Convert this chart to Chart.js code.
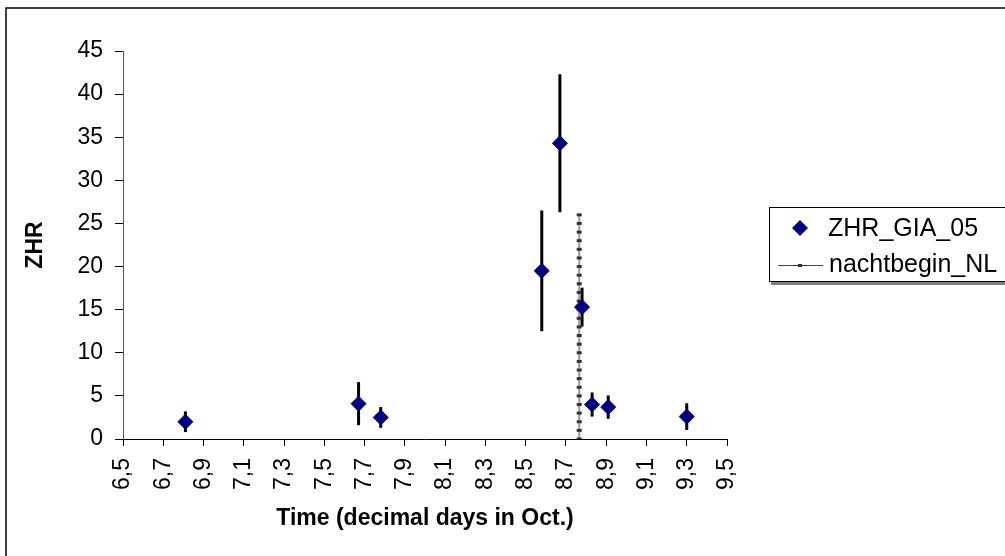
<!DOCTYPE html>
<html>
<head>
<meta charset="utf-8">
<script src="https://cdn.jsdelivr.net/npm/chart.js@4.4.1/dist/chart.umd.min.js"></script>
<style>
  body { margin: 0; background: #fff; }
  #wrap { width: 1005px; height: 556px; }
</style>
</head>
<body>
<div id="wrap"><canvas id="chartCanvas" width="1005" height="556"></canvas></div>
<script>
// ZHR points (time in decimal days of October), with +/- error
const zhrTime = [6.81, 7.67, 7.78, 8.58, 8.67, 8.78, 8.83, 8.91, 9.30];
const zhrValue = [2.0, 4.1, 2.5, 19.5, 34.3, 15.3, 4.0, 3.7, 2.6];
const zhrError = [1.2, 2.5, 1.2, 7.0, 8.0, 2.25, 1.4, 1.35, 1.55];

// start of night in NL: vertical line of markers
const nachtTime = 8.766;
const nachtLevels = [0, 1, 2, 3, 4, 5, 6, 7, 8, 9, 10, 11, 12, 13, 14, 15, 16, 17, 18, 19, 20, 21, 22, 23, 24, 25, 26];

const xTickValues = [6.5, 6.7, 6.9, 7.1, 7.3, 7.5, 7.7, 7.9, 8.1, 8.3, 8.5, 8.7, 8.9, 9.1, 9.3, 9.5];
const xTickLabels = ["6,5", "6,7", "6,9", "7,1", "7,3", "7,5", "7,7", "7,9", "8,1", "8,3", "8,5", "8,7", "8,9", "9,1", "9,3", "9,5"];

const fontName = "'Liberation Sans', Arial, sans-serif";

// foutbalkjes
const errorBars = {
    id: "errorBars",
    beforeDatasetsDraw(chart) {
        const { ctx, scales: { x, y } } = chart;
        ctx.save();
        ctx.strokeStyle = "#000";
        ctx.lineWidth = 3;
        zhrTime.forEach((t, i) => {
            const px = x.getPixelForValue(t);
            ctx.beginPath();
            ctx.moveTo(px, y.getPixelForValue(zhrValue[i] + zhrError[i]));
            ctx.lineTo(px, y.getPixelForValue(zhrValue[i] - zhrError[i]));
            ctx.stroke();
        });
        ctx.restore();
    }
};

// legend box + chart frame, Excel style
const boxLegend = {
    id: "boxLegend",
    afterDraw(chart) {
        const c = chart.ctx;
        const ds = chart.data.datasets;
        c.save();
        c.strokeStyle = "#000";
        c.lineWidth = 1.5;
        c.strokeRect(6, 8, 1100, 700);

        c.fillStyle = "#808080";
        c.fillRect(771, 282, 300, 3);
        c.fillStyle = "#fff";
        c.fillRect(769, 207, 300, 75);
        c.lineWidth = 1;
        c.strokeRect(769.5, 207.5, 300, 74);

        // diamond
        c.fillStyle = ds[0].pointBackgroundColor;
        c.beginPath();
        c.moveTo(800, 220);
        c.lineTo(808, 228);
        c.lineTo(800, 236);
        c.lineTo(792, 228);
        c.closePath();
        c.fill();

        // line sample
        c.strokeStyle = "#444";
        c.lineWidth = 1;
        c.beginPath();
        c.moveTo(778, 265.5);
        c.lineTo(823, 265.5);
        c.stroke();
        c.fillStyle = "#333";
        c.fillRect(798, 264, 4, 3);

        c.fillStyle = "#000";
        c.font = "25px " + fontName;
        c.textBaseline = "alphabetic";
        c.fillText(ds[0].label, 828, 236);
        c.fillText(ds[1].label, 829, 272);
        c.restore();
    }
};

const ctx = document.getElementById("chartCanvas").getContext("2d");

new Chart(ctx, {
    type: "scatter",
    data: {
        datasets: [{
            label: "ZHR_GIA_05",
            data: zhrTime.map((t, i) => ({ x: t, y: zhrValue[i] })),
            showLine: false,
            pointStyle: "rectRot",
            pointRadius: 7.5,
            pointHoverRadius: 7.5,
            pointBackgroundColor: "#000080",
            pointBorderColor: "#000080",
            pointBorderWidth: 1
        }, {
            label: "nachtbegin_NL",
            data: nachtLevels.map(v => ({ x: nachtTime, y: v })),
            showLine: true,
            borderColor: "#9a9a9a",
            borderWidth: 2,
            pointStyle: "line",
            pointRadius: 2.5,
            pointHoverRadius: 2.5,
            pointBorderColor: "#333",
            pointBorderWidth: 3
        }]
    },
    options: {
        responsive: false,
        animation: false,
        layout: { padding: { top: 51, right: 278, bottom: 0, left: 0 } },
        plugins: {
            legend: { display: false },
            tooltip: { enabled: false }
        },
        scales: {
            x: {
                type: "linear",
                min: 6.5,
                max: 9.5,
                afterBuildTicks: s => { s.ticks = xTickValues.map(v => ({ value: v })); },
                afterFit: s => { s.height = 117; },
                ticks: {
                    autoSkip: false,
                    minRotation: 90,
                    maxRotation: 90,
                    padding: 12,
                    color: "#000",
                    font: { family: fontName, size: 23 },
                    callback: (v, i) => xTickLabels[i]
                },
                grid: { display: true, drawOnChartArea: false, drawTicks: true, tickLength: 7, color: "#000", lineWidth: 1 },
                border: { display: true, color: "#000", width: 1 },
                title: {
                    display: true,
                    text: "Time (decimal days in Oct.)",
                    color: "#000",
                    font: { family: fontName, size: 23, weight: "bold" },
                    padding: { top: 0, bottom: 24 }
                }
            },
            y: {
                min: 0,
                max: 45,
                afterFit: s => { s.width = 123; },
                ticks: {
                    stepSize: 5,
                    padding: 12,
                    color: "#000",
                    font: { family: fontName, size: 23 }
                },
                grid: { display: true, drawOnChartArea: false, drawTicks: true, tickLength: 8, color: "#000", lineWidth: 1 },
                border: { display: true, color: "#555", width: 1 },
                title: {
                    display: true,
                    text: "ZHR",
                    color: "#000",
                    font: { family: fontName, size: 23, weight: "bold" },
                    padding: { top: 22, bottom: 0 }
                }
            }
        }
    },
    plugins: [errorBars, boxLegend]
});
</script>
</body>
</html>
